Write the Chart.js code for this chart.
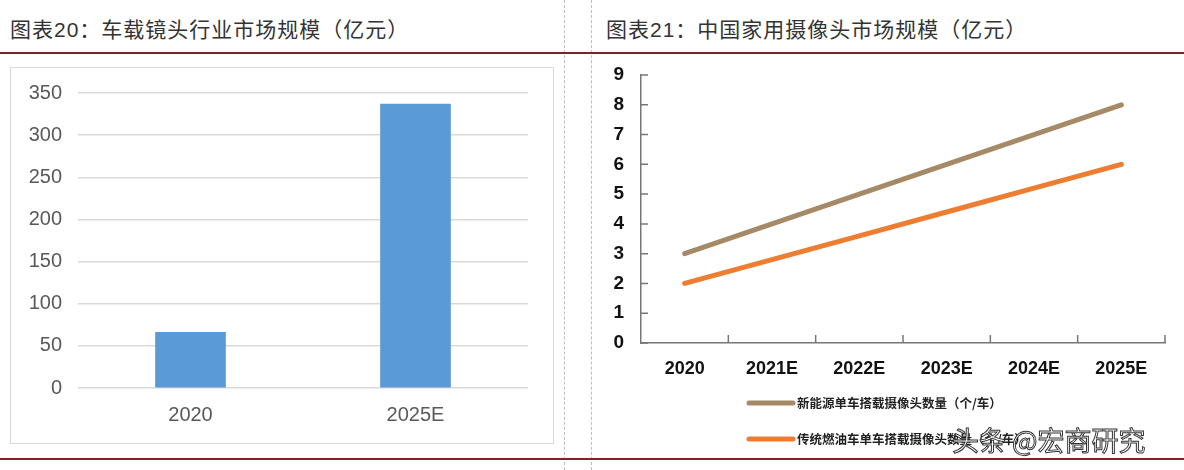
<!DOCTYPE html>
<html>
<head>
<meta charset="utf-8">
<script src="https://cdn.jsdelivr.net/npm/chart.js@4/dist/chart.umd.min.js"></script>
<style>
  body { margin: 0; width: 1184px; height: 470px; background: #fff; position: relative; overflow: hidden; font-family: "Liberation Sans", "Noto Sans CJK SC", sans-serif; }
  .title { position: absolute; top: 16px; font-size: 21px; color: #333; letter-spacing: 1px; line-height: 28px; white-space: nowrap; }
  .rule { position: absolute; left: 0; width: 1184px; height: 2px; background: #7d2424; }
  .dash { position: absolute; top: 0; height: 470px; border-left: 1.5px dashed #bdbdbd; }
  #box1 { position: absolute; left: 10px; top: 67px; width: 542px; height: 375px; border: 1.5px solid #d9d9d9; }
  #wrap2 { position: absolute; left: 595px; top: 60px; width: 585px; height: 395px; }
  .mark { position: absolute; left: 952px; top: 420px; font-size: 27px; color: #fff; -webkit-text-stroke: 1px #333; font-family: "Noto Sans CJK SC", sans-serif; white-space: nowrap; }
</style>
</head>
<body>
<div class="dash" style="left:564px"></div>
<div class="dash" style="left:591px"></div>
<div class="title" style="left:10px">图表20：车载镜头行业市场规模（亿元）</div>
<div class="title" style="left:606px">图表21：中国家用摄像头市场规模（亿元）</div>
<div class="rule" style="top:52px"></div>
<div class="rule" style="top:458px"></div>
<div id="box1"><canvas id="chart1"></canvas></div>
<div id="wrap2"><canvas id="chart2"></canvas></div>
<div class="mark">头条 @宏商研究</div>
<script>
//Left chart data
const barYears = ["2020", "2025E"];
const marketSize = [66, 337];
//Right chart data
const lineYears = ["2020", "2021E", "2022E", "2023E", "2024E", "2025E"];
const nevCameras = [3, 4, 5, 6, 7, 8];
const iceCameras = [2, 2.8, 3.6, 4.4, 5.2, 6];
const seriesNames = ["新能源单车搭载摄像头数量（个/车）", "传统燃油车单车搭载摄像头数量（个/车）"];

const sans = "'Liberation Sans', Arial, 'Noto Sans CJK SC', sans-serif";

new Chart(document.getElementById("chart1"), {
  type: "bar",
  data: {
    labels: barYears,
    datasets: [{ data: marketSize, backgroundColor: "#5b9bd5", barThickness: 70 }],
  },
  options: {
    responsive: true,
    maintainAspectRatio: false,
    animation: false,
    layout: { padding: { top: 25, right: 25, left: 0, bottom: 0 } },
    plugins: { legend: { display: false }, tooltip: false },
    scales: {
      x: {
        grid: { display: false },
        border: { display: false },
        ticks: { color: "#595959", font: { family: sans, size: 20 }, padding: 7 },
        afterFit: (s) => { s.height = 55; },
      },
      y: {
        min: 0,
        max: 350,
        ticks: { stepSize: 50, color: "#595959", font: { family: sans, size: 20 }, padding: 16 },
        grid: { color: "#d9d9d9", lineWidth: 1.5, drawTicks: false },
        border: { display: false },
        afterFit: (s) => { s.width = 67; s.paddingTop = 0; s.paddingBottom = 0; },
      },
    },
  },
});

//inner tick marks for the right chart
const innerTicks = {
  id: "innerTicks",
  afterDraw(chart) {
    const ctx = chart.ctx;
    const x = chart.scales.x, y = chart.scales.y;
    ctx.save();
    ctx.strokeStyle = "#777";
    ctx.lineWidth = 1.5;
    ctx.beginPath();
    y.ticks.forEach((t) => {
      const py = y.getPixelForValue(t.value);
      ctx.moveTo(x.left, py);
      ctx.lineTo(x.left + 7, py);
    });
    for (let i = 0; i < lineYears.length; i++) {
      const bx = i + 1 < lineYears.length ? (x.getPixelForValue(i) + x.getPixelForValue(i + 1)) / 2 : x.right;
      ctx.moveTo(bx, y.bottom);
      ctx.lineTo(bx, y.bottom - 8);
    }
    ctx.stroke();
    ctx.restore();
  },
};

//legend stacked in two rows under the axis
const stackedLegend = {
  id: "stackedLegend",
  afterDraw(chart) {
    const ctx = chart.ctx;
    ctx.save();
    chart.data.datasets.forEach((ds, i) => {
      const cy = 343 + i * 36;
      ctx.strokeStyle = ds.borderColor;
      ctx.lineWidth = 5;
      ctx.lineCap = "round";
      ctx.beginPath();
      ctx.moveTo(154, cy);
      ctx.lineTo(198, cy);
      ctx.stroke();
      ctx.fillStyle = "#222";
      ctx.font = "bold 12.5px 'Noto Sans CJK SC', sans-serif";
      ctx.textBaseline = "middle";
      ctx.fillText(ds.label, 202, cy);
    });
    ctx.restore();
  },
};

new Chart(document.getElementById("chart2"), {
  type: "line",
  plugins: [innerTicks, stackedLegend],
  data: {
    labels: lineYears,
    datasets: [
      { label: seriesNames[0], data: nevCameras, borderColor: "#a68a67", borderWidth: 5, pointRadius: 0, borderCapStyle: "round" },
      { label: seriesNames[1], data: iceCameras, borderColor: "#ed7d31", borderWidth: 5, pointRadius: 0, borderCapStyle: "round" },
    ],
  },
  options: {
    responsive: true,
    maintainAspectRatio: false,
    animation: false,
    layout: { padding: { top: 15, right: 15, left: 0, bottom: 0 } },
    plugins: { legend: { display: false }, tooltip: false },
    scales: {
      x: {
        offset: true,
        grid: { display: false },
        border: { color: "#777", width: 1.5 },
        ticks: { color: "#111", font: { family: sans, size: 18, weight: "bold" }, padding: 7 },
        afterFit: (s) => { s.height = 112; },
      },
      y: {
        min: 0,
        max: 9,
        ticks: { stepSize: 1, color: "#111", font: { family: sans, size: 19, weight: "bold" }, padding: 9 },
        grid: { display: false },
        border: { color: "#777", width: 1.5 },
        afterFit: (s) => { s.width = 46; s.paddingTop = 0; s.paddingBottom = 0; },
      },
    },
  },
});
</script>
</body>
</html>
